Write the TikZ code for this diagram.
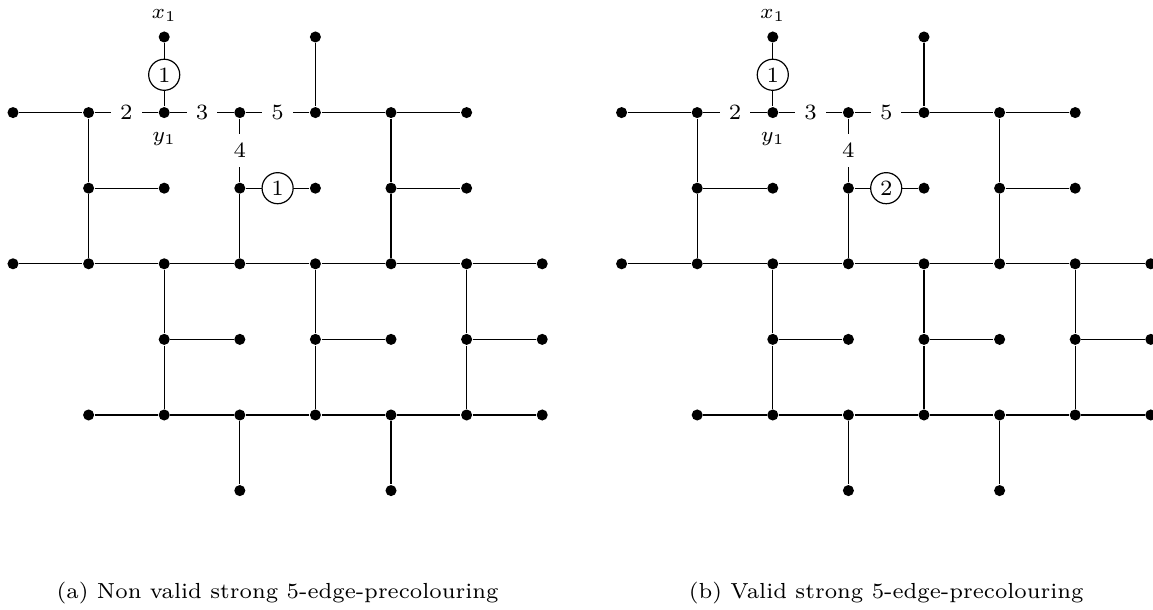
\documentclass[tikz,border=0pt]{standalone}
\usetikzlibrary{positioning}
\begin{document}
\begin{tikzpicture}[
  x=25.3pt, y=25.3pt,
  font=\fontsize{7.3}{8.8}\selectfont,
  dot/.style={circle, fill=black, inner sep=0pt, minimum size=3.7pt},
  lbl/.style={fill=white, inner sep=3pt},
  circ/.style={circle, draw, fill=white, inner sep=1pt, minimum size=10.4pt},
  capt/.style={anchor=base},
]
  \useasboundingbox (-0.172,0.489) rectangle (15.079,-7.579);

  \foreach \p/\dx/\c/\txt in {a/0/1/Non valid strong 5-edge-precolouring,
                              b/8.05/2/Valid strong 5-edge-precolouring}{
  \begin{scope}[shift={(\dx,0)}, name prefix=\p-]
    % Vertices, row by row
    \node[dot, label={[label distance=-0.3pt]above:$x_1$}] (v20) at (2,0) {};
    \node[dot] (v40) at (4,0) {};

    \node[dot] (v01) at (0,-1) {};
    \node[dot] (v11) at (1,-1) {};
    \node[dot, label={[label distance=1pt]below:$y_1$}] (v21) at (2,-1) {};
    \node[dot] (v31) at (3,-1) {};
    \node[dot] (v41) at (4,-1) {};
    \node[dot] (v51) at (5,-1) {};
    \node[dot] (v61) at (6,-1) {};

    \node[dot] (v12) at (1,-2) {};
    \node[dot] (v22) at (2,-2) {};
    \node[dot] (v32) at (3,-2) {};
    \node[dot] (v42) at (4,-2) {};
    \node[dot] (v52) at (5,-2) {};
    \node[dot] (v62) at (6,-2) {};

    \node[dot] (v03) at (0,-3) {};
    \node[dot] (v13) at (1,-3) {};
    \node[dot] (v23) at (2,-3) {};
    \node[dot] (v33) at (3,-3) {};
    \node[dot] (v43) at (4,-3) {};
    \node[dot] (v53) at (5,-3) {};
    \node[dot] (v63) at (6,-3) {};
    \node[dot] (v73) at (7,-3) {};

    \node[dot] (v24) at (2,-4) {};
    \node[dot] (v34) at (3,-4) {};
    \node[dot] (v44) at (4,-4) {};
    \node[dot] (v54) at (5,-4) {};
    \node[dot] (v64) at (6,-4) {};
    \node[dot] (v74) at (7,-4) {};

    \node[dot] (v15) at (1,-5) {};
    \node[dot] (v25) at (2,-5) {};
    \node[dot] (v35) at (3,-5) {};
    \node[dot] (v45) at (4,-5) {};
    \node[dot] (v55) at (5,-5) {};
    \node[dot] (v65) at (6,-5) {};
    \node[dot] (v75) at (7,-5) {};

    \node[dot] (v36) at (3,-6) {};
    \node[dot] (v56) at (5,-6) {};

    % Precoloured edges
    \draw (v01) -- (v11);
    \draw (v11) -- node[lbl] {2} (v21);
    \draw (v21) -- node[lbl] {3} (v31);
    \draw (v31) -- node[lbl] {5} (v41);
    \draw (v31) -- node[lbl] {4} (v32);
    \draw (v20) -- node[circ] {1} (v21);
    \draw (v32) -- node[circ] {\c} (v42);

    % Remaining edges
    \draw (v41) -- (v51) -- (v61);
    \draw (v40) -- (v41);
    \draw (v11) -- (v12) -- (v13);
    \draw (v32) -- (v33);
    \draw (v51) -- (v52) -- (v53);
    \draw (v12) -- (v22);
    \draw (v52) -- (v62);
    \draw (v03) -- (v13) -- (v23) -- (v33) -- (v43) -- (v53) -- (v63) -- (v73);
    \draw (v23) -- (v24) -- (v25);
    \draw (v43) -- (v44) -- (v45);
    \draw (v63) -- (v64) -- (v65);
    \draw (v24) -- (v34);
    \draw (v44) -- (v54);
    \draw (v64) -- (v74);
    \draw (v15) -- (v25) -- (v35) -- (v45) -- (v55) -- (v65) -- (v75);
    \draw (v35) -- (v36);
    \draw (v55) -- (v56);

    % Caption
    \node[capt] (cap) at (3.5,-7.43) {(\p) \txt};
  \end{scope}
  }
\end{tikzpicture}
\end{document}
